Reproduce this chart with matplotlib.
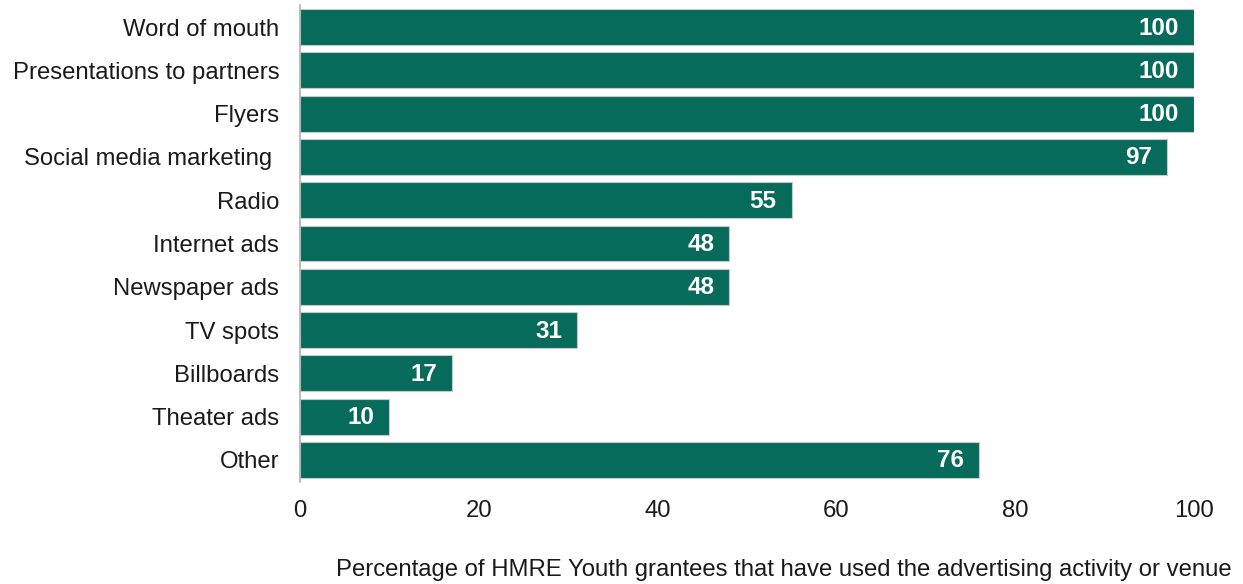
import numpy as np
import matplotlib
matplotlib.use('Agg')
import matplotlib.pyplot as plt

plt.rcParams['font.family'] = ['Liberation Sans', 'DejaVu Sans']

actividades = ['Word of mouth', 'Presentations to partners', 'Flyers',
               'Social media marketing ', 'Radio', 'Internet ads',
               'Newspaper ads', 'TV spots', 'Billboards', 'Theater ads', 'Other']
porcentajes = [100, 100, 100, 97, 55, 48, 48, 31, 17, 10, 76]
xticks = [0, 20, 40, 60, 80, 100]

verde = '#076B5C'
tam = 17.2

fig = plt.figure(figsize=(12.43, 5.84), dpi=100)
ax = fig.add_axes([0.2414, 0.1753, 0.7192, 0.8155])

y = np.arange(len(actividades))
ax.barh(y, porcentajes, height=0.83, color=verde, edgecolor='#c8c8c8', linewidth=0.8)

for yi, v in zip(y, porcentajes):
    ax.annotate(f'{v}', xy=(v, yi), xytext=(-15, -1), textcoords='offset pixels',
                ha='right', va='center', color='white', fontsize=17.5, fontweight='bold')

ax.set_xlim(0, 100)
ax.set_ylim(len(actividades) - 0.5, -0.5)
ax.set_yticks(y)
ax.set_yticklabels(actividades, fontsize=tam, color='#1a1a1a')
ax.set_xticks(xticks)
ax.set_xticklabels([str(t) for t in xticks], fontsize=tam, color='#1a1a1a')
ax.tick_params(axis='both', length=0)
ax.tick_params(axis='x', pad=13)
ax.tick_params(axis='y', pad=15)

for lado in ['top', 'right', 'bottom']:
    ax.spines[lado].set_visible(False)
ax.spines['left'].set_color('#b0b0b0')
ax.spines['left'].set_linewidth(1.2)

ax.set_xlabel('Percentage of HMRE Youth grantees that have used the advertising activity or venue',
              fontsize=tam, color='#1a1a1a')
ax.xaxis.set_label_coords(0.541, -0.162)

plt.savefig('out.png', dpi=100)
